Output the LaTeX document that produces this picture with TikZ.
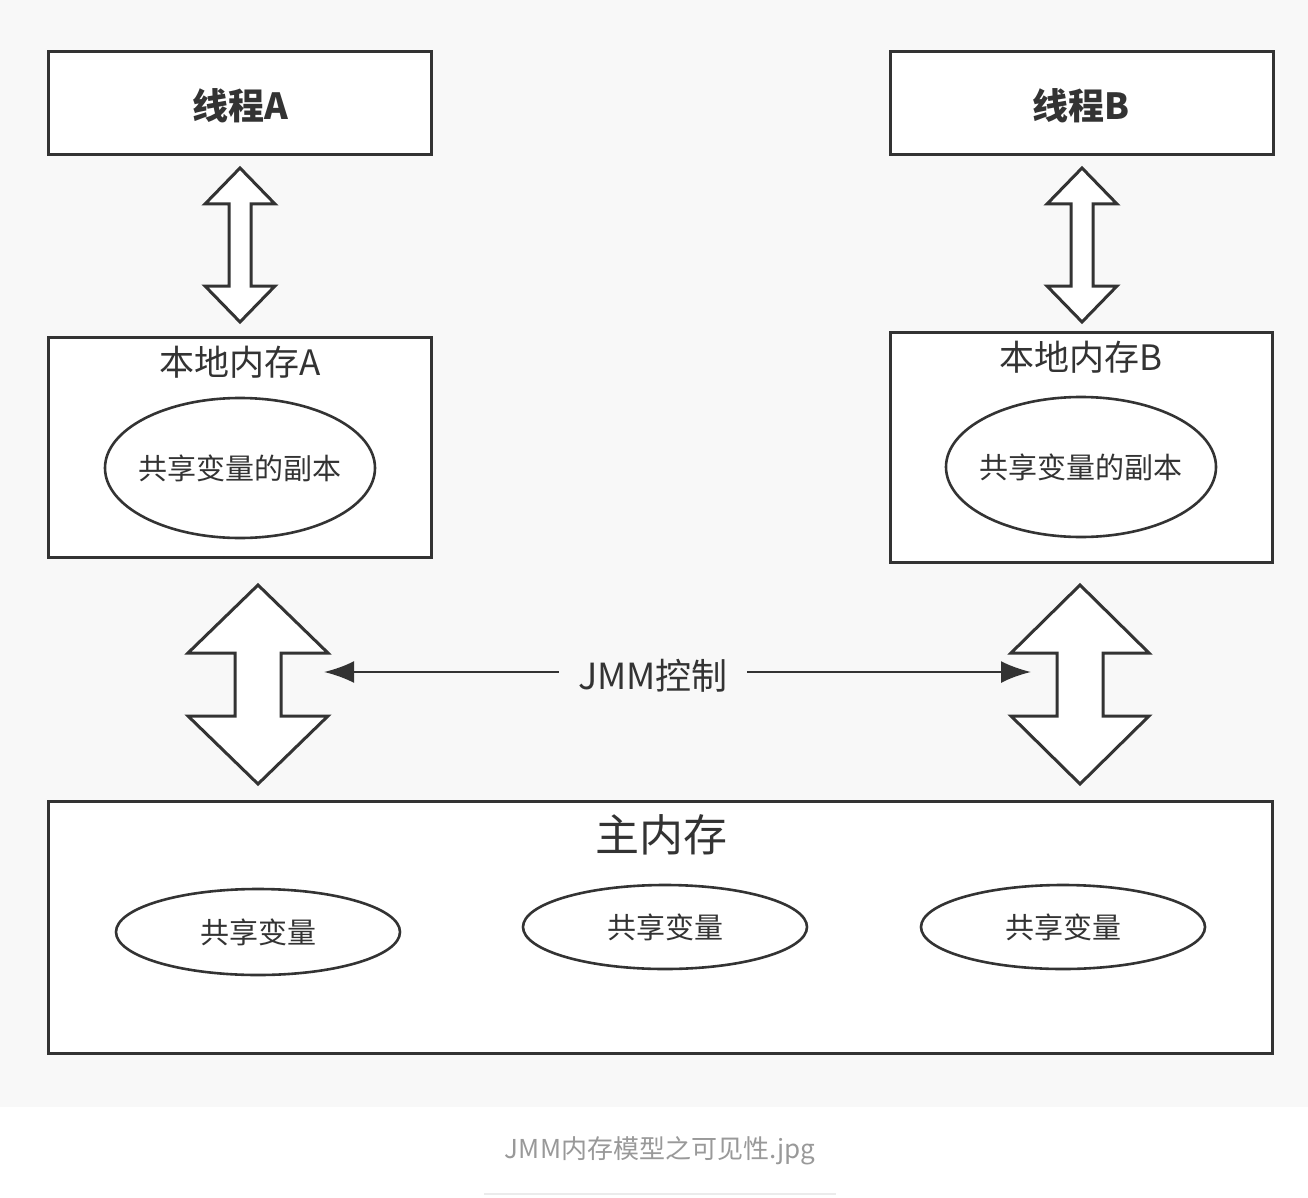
\documentclass[tikz,border=0pt]{standalone}
\usepackage{fontspec}
\setmainfont{Noto Sans CJK SC}
\usetikzlibrary{arrows.meta,shapes.geometric}
\definecolor{ink}{HTML}{333333}
\definecolor{bggray}{HTML}{F8F8F8}
\definecolor{capgray}{HTML}{999999}
\tikzset{
  box/.style={draw=ink, line width=3pt, fill=white, inner sep=0pt},
  oval/.style={draw=ink, line width=2.6pt, fill=white, ellipse, inner sep=0pt},
  lbl/.style={text=ink, inner sep=0pt, anchor=center},
  flow/.style={draw=ink, line width=2.6pt, -{Latex[length=30pt,width=22pt]}},
  fatarrow/.style={draw=ink, line width=3pt, fill=white, line join=miter},
}
% center x, top y, bottom y, head half width, shaft half width, head length
\newcommand\myDArrow[6]{%
  \draw[fatarrow] (#1,#2) -- (#1+#4,#2+#6) -- (#1+#5,#2+#6) -- (#1+#5,#3-#6)
    -- (#1+#4,#3-#6) -- (#1,#3) -- (#1-#4,#3-#6) -- (#1-#5,#3-#6)
    -- (#1-#5,#2+#6) -- (#1-#4,#2+#6) -- cycle;}
\begin{document}
\begin{tikzpicture}[x=1pt,y=-1pt]
\useasboundingbox (0,0) rectangle (1308,1198);
\fill[bggray] (0,0) rectangle (1308,1107);
\fill[white] (0,1107) rectangle (1308,1198);

% thread boxes
\node[box, minimum width=383pt, minimum height=103pt] (ta) at (239.5,103.5) {};
\node[lbl, font=\fontsize{36}{42}\selectfont\bfseries] at (240,106) {线程A};
\node[box, minimum width=383pt, minimum height=103pt] (tb) at (1081.5,103.5) {};
\node[lbl, font=\fontsize{36}{42}\selectfont\bfseries] at (1081,106) {线程B};

% local memory boxes
\node[box, minimum width=383pt, minimum height=220pt] (la) at (239.5,447) {};
\node[lbl, font=\fontsize{35}{40}\selectfont] (lat) at (240,362) {本地内存A};
\node[oval, minimum width=270pt, minimum height=140pt] (ea) at (240,468) {};
\node[lbl, font=\fontsize{29}{34}\selectfont] at (ea.center) {共享变量的副本};

\node[box, minimum width=382pt, minimum height=230pt] (lb) at (1081,447) {};
\node[lbl, font=\fontsize{35}{40}\selectfont] (lbt) at (1081,357) {本地内存B};
\node[oval, minimum width=270pt, minimum height=140pt] (eb) at (1081,467) {};
\node[lbl, font=\fontsize{29}{34}\selectfont] at (eb.center) {共享变量的副本};

% main memory
\node[box, minimum width=1224pt, minimum height=252pt] (mm) at (660,927) {};
\node[lbl, font=\fontsize{44}{50}\selectfont] (mmt) at (661,835) {主内存};
\node[oval, minimum width=284pt, minimum height=86pt] (v1) at (258,932) {};
\node[lbl, font=\fontsize{29}{34}\selectfont] at (v1.center) {共享变量};
\node[oval, minimum width=284pt, minimum height=84pt] (v2) at (665,927) {};
\node[lbl, font=\fontsize{29}{34}\selectfont] at (v2.center) {共享变量};
\node[oval, minimum width=284pt, minimum height=84pt] (v3) at (1063,927) {};
\node[lbl, font=\fontsize{29}{34}\selectfont] at (v3.center) {共享变量};

% double arrows
\myDArrow{240}{168}{322}{35}{11}{36}
\myDArrow{1082}{168}{322}{35}{11}{36}
\myDArrow{258}{585}{784}{70}{23}{68}
\myDArrow{1080}{585}{784}{69}{23}{68}

% JMM control
\node[lbl, font=\fontsize{36}{42}\selectfont, inner xsep=19pt, fill=bggray] (jmm) at (653,676) {JMM控制};
\coordinate (jl) at (324,672);
\coordinate (jr) at (1031,672);
\draw[flow] (jmm.west |- jl) -- (jl);
\draw[flow] (jmm.east |- jr) -- (jr);

% caption
\node[lbl, text=capgray, font=\fontsize{26}{30}\selectfont] (cap) at (660,1151) {JMM内存模型之可见性.jpg};
\coordinate (cl) at (484,1194);
\coordinate (cr) at (836,1194);
\draw[line width=2pt, draw=black!8] (cl) -- (cr);
\end{tikzpicture}
\end{document}
